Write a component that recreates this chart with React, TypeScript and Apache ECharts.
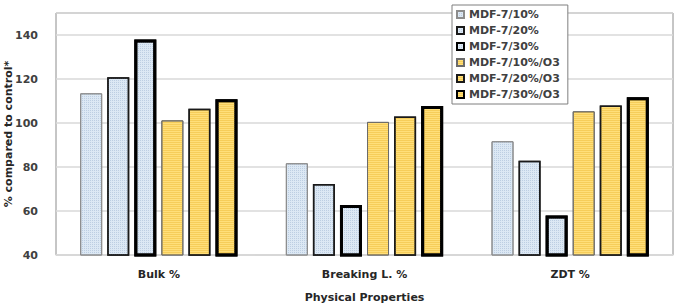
import React, { useEffect, useRef } from "react";
import * as echarts from "echarts";

const categories = ["Bulk %", "Breaking L. %", "ZDT %"];
const seriesNames = ["MDF-7/10%", "MDF-7/20%", "MDF-7/30%", "MDF-7/10%/O3", "MDF-7/20%/O3", "MDF-7/30%/O3"];
const s10 = [113.5, 81.7, 91.7];
const s20 = [120.8, 72.3, 82.8];
const s30 = [138, 62.7, 58];
const s10o3 = [101.2, 100.5, 105.3];
const s20o3 = [106.5, 102.9, 107.9];
const s30o3 = [110.8, 107.7, 111.7];
const seriesData = [s10, s20, s30, s10o3, s20o3, s30o3];

const FONT = "DejaVu Sans";

export default function App() {
  const ref = useRef<HTMLDivElement>(null);
  useEffect(() => {
    if (!ref.current) return;
    const chart = echarts.init(ref.current, null, { renderer: "svg" });
    const blueDecal = {
      symbol: "rect",
      symbolSize: 1,
      dashArrayX: [1, 1],
      dashArrayY: [1, 1],
      color: "rgba(150,175,205,0.45)",
    };
    const yellowDecal = {
      symbol: "rect",
      symbolSize: 1,
      dashArrayX: [1, 0],
      dashArrayY: [1, 1],
      color: "rgba(235,185,50,0.45)",
    };
    const borders = [
      { c: "#8c8c8c", w: 1 },
      { c: "#1a1a1a", w: 1.5 },
      { c: "#000000", w: 3 },
    ];
    const series = seriesData.map((d, i) => {
      const isY = i >= 3;
      const b = borders[i % 3];
      return {
        name: seriesNames[i],
        type: "bar",
        data: d,
        barWidth: 22,
        barGap: "23%",
        itemStyle: {
          color: isY ? "#ffdf7a" : "#dce8f4",
          borderColor: isY && i === 3 ? "#6b6b6b" : b.c,
          borderWidth: b.w,
          decal: isY ? yellowDecal : blueDecal,
        },
      };
    });
    chart.setOption({
      animation: false,
      aria: { enabled: false, decal: { show: true } },
      grid: {
        left: 56,
        right: 4,
        top: 13,
        bottom: 50,
        show: true,
        borderColor: "#8c8c8c",
        borderWidth: 1,
        containLabel: false,
        outerBoundsMode: "none",
      },
      legend: {
        orient: "vertical",
        left: 452,
        top: 5,
        backgroundColor: "#ffffff",
        borderColor: "#7f7f7f",
        borderWidth: 1,
        padding: [4, 8, 4, 4],
        itemWidth: 7,
        itemHeight: 7,
        itemGap: 5,
        icon: "rect",
        textStyle: { fontFamily: FONT, fontSize: 11, fontWeight: "bold", color: "#404040", lineHeight: 11 },
        data: seriesNames,
      },
      xAxis: {
        type: "category",
        data: categories,
        axisLine: { show: true, lineStyle: { color: "#d9d9d9", width: 1.5 } },
        axisTick: { show: false },
        axisLabel: { margin: 14, fontFamily: FONT, fontSize: 11, fontWeight: "bold", color: "#262626" },
        name: "Physical Properties",
        nameLocation: "middle",
        nameGap: 37,
        nameMoveOverlap: false,
        nameTextStyle: { fontFamily: FONT, fontSize: 11, fontWeight: "bold", color: "#262626" },
      },
      yAxis: {
        type: "value",
        min: 40,
        max: 150,
        interval: 20,
        axisLine: { show: false },
        axisTick: { show: false },
        axisLabel: { margin: 18, showMaxLabel: false, fontFamily: FONT, fontSize: 11, fontWeight: "bold", color: "#404040" },
        splitLine: { lineStyle: { color: "#d9d9d9", width: 1.5 } },
        name: "% compared to control*",
        nameLocation: "middle",
        nameGap: 42,
        nameMoveOverlap: false,
        nameTextStyle: { fontFamily: FONT, fontSize: 11, fontWeight: "bold", color: "#262626" },
      },
      series,
    });
    return () => chart.dispose();
  }, []);
  return (
    <div
      ref={ref}
      style={{ position: "fixed", left: 0, top: 0, width: 677, height: 305, background: "#ffffff" }}
    />
  );
}
